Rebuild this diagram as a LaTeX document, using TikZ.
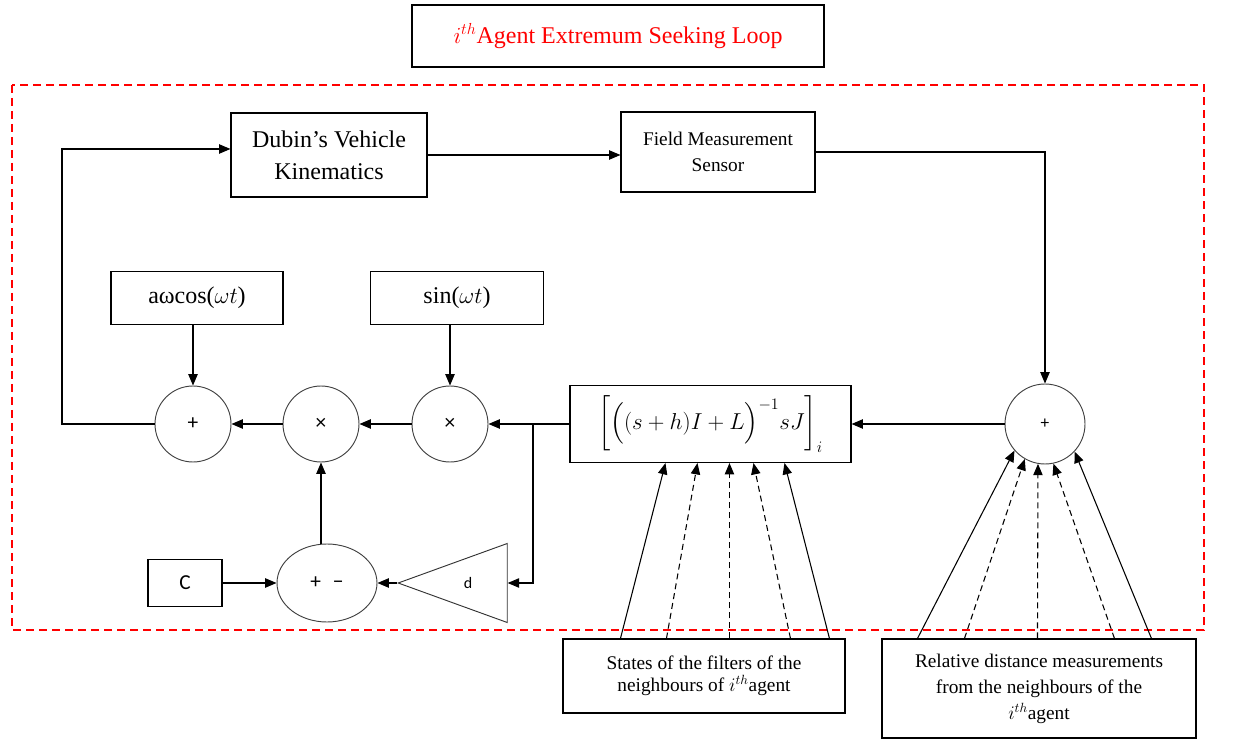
\documentclass[tikz,border=0pt]{standalone}
\usepackage{amsmath}
\usepackage{fontspec}
\setmainfont{Liberation Serif}
\newfontfamily\calib{Carlito}
\usetikzlibrary{arrows.meta,shapes.geometric,calc}
\begin{document}
\begin{tikzpicture}[x=0.75pt,y=-0.75pt,
  blk/.style={draw, line width=0.8pt, inner sep=2pt, align=center},
  opc/.style={circle, draw=black!75, line width=0.7pt, minimum size=57pt, inner sep=0pt},
  arr/.style={-{Triangle[length=8.5pt,width=7pt]}, line width=0.8pt},
  darr/.style={arr, dash pattern=on 4.5pt off 3pt},
  frame/.style={draw=red, line width=1pt, dash pattern=on 6pt off 3.75pt}]
\useasboundingbox (0,0) rectangle (1239,741);

% title
\node[blk, minimum width=309pt, minimum height=46.5pt, text=red,
  font=\fontsize{18}{22}\selectfont] (title) at (618,36)
  {$i^{th}$Agent Extremum Seeking Loop};
\draw[frame] (12,85) rectangle (1204,630);

% top row
\node[blk, minimum width=147pt, minimum height=63pt,
  font=\fontsize{18}{24}\selectfont] (dubin) at (329,155)
  {Dubin’s Vehicle\\Kinematics};
\node[blk, minimum width=145.5pt, minimum height=60pt,
  font=\fontsize{14.5}{19}\selectfont] (field) at (718,152)
  {Field Measurement\\Sensor};

% signal boxes
\node[blk, minimum width=129pt, minimum height=39.75pt,
  font=\fontsize{18}{22}\selectfont] (cosb) at (197,298)
  {aωcos($\omega t$)};
\node[blk, minimum width=129.75pt, minimum height=39.75pt,
  font=\fontsize{18}{22}\selectfont] (sinb) at (457,298)
  {sin($\omega t$)};

% operators
\node[opc, font=\calib\fontsize{16}{18}\selectfont] (plus) at (193,424) {+};
\node[opc, font=\calib\fontsize{16}{18}\selectfont] (mx) at (321,424) {×};
\node[opc, font=\calib\fontsize{16}{18}\selectfont] (rx) at (450,424) {×};
\node[opc, minimum size=60pt, font=\calib\fontsize{13}{15}\selectfont] (sum) at (1045,424) {+};

\node[blk, minimum width=210.75pt, minimum height=57.75pt,
  font=\fontsize{17}{20}\selectfont] (filt) at (710.5,424)
  {$\biggl[\Bigl((s+h)I+L\Bigr)^{-1}sJ\biggr]_i$};

% bottom row
\node[blk, minimum width=55.5pt, minimum height=35.25pt,
  font=\calib\fontsize{16}{18}\selectfont] (cbox) at (185,583) {C};
\node[ellipse, draw=black!75, line width=0.7pt, minimum width=75pt, minimum height=58.5pt,
  inner sep=0pt, font=\calib\fontsize{16}{18}\selectfont] (pm) at (327,583)
  {+\,\, −};
\node[isosceles triangle, isosceles triangle stretches, shape border rotate=180,
  draw=black!80, line width=0.7pt, minimum height=81.75pt, minimum width=59.25pt,
  inner sep=0pt, anchor=apex] (tri) at (397,583) {};
\node[font=\calib\fontsize{12}{14}\selectfont] (dl) at (468,583) {d};

\node[blk, minimum width=211.5pt, minimum height=55.5pt,
  font=\fontsize{14.5}{16.5}\selectfont] (states) at (704,676)
  {States of the filters of the\\neighbours of $i^{th}$agent};
\node[blk, minimum width=235.5pt, minimum height=74.25pt,
  font=\fontsize{14.5}{19.5}\selectfont] (rel) at (1039,688.5)
  {Relative distance measurements\\from the neighbours of the\\$i^{th}$agent};

% connectors
\coordinate (fb) at (62,149);
\coordinate (j) at (533,424);
\draw[arr] (plus.west) -| (fb) -- (dubin.west |- fb);
\draw[arr] (dubin.east) -- (dubin.east -| field.west);
\draw[arr] (field.east) -| (sum.north);
\draw[arr] (sum.west) -- (filt.east);
\draw[arr] (filt.west) -- (rx.east);
\draw[arr] (rx.west) -- (mx.east);
\draw[arr] (mx.west) -- (plus.east);
\draw[arr] (cosb.south -| plus.north) -- (plus.north);
\draw[arr] (sinb.south -| rx.north) -- (rx.north);
\draw[arr] (j) |- (tri.lower side);
\draw[arr] (tri.apex) -- (pm.east);
\draw[arr] (cbox.east) -- (pm.west);
\draw[arr] (pm.north -| mx.south) -- (mx.south);

% inputs to filter
\draw[arr]  ($(states.north west)+(58,0)$)  -- ($(filt.south west)+(96,0)$);
\draw[darr] ($(states.north west)+(104,0)$) -- ($(filt.south west)+(128,0)$);
\draw[darr] ($(states.north west)+(167,0)$) -- ($(filt.south west)+(160,0)$);
\draw[darr] ($(states.north west)+(228,0)$) -- ($(filt.south west)+(184,0)$);
\draw[arr]  ($(states.north west)+(267,0)$) -- ($(filt.south west)+(215,0)$);

% inputs to sum
\draw[arr]  ($(rel.north west)+(36,0)$)  -- (sum.221);
\draw[darr] ($(rel.north west)+(83,0)$)  -- (sum.240);
\draw[darr] ($(rel.north west)+(156,0)$) -- (sum.260);
\draw[darr] ($(rel.north west)+(233,0)$) -- (sum.282);
\draw[arr]  ($(rel.north west)+(270,0)$) -- (sum.317);
\end{tikzpicture}
\end{document}
